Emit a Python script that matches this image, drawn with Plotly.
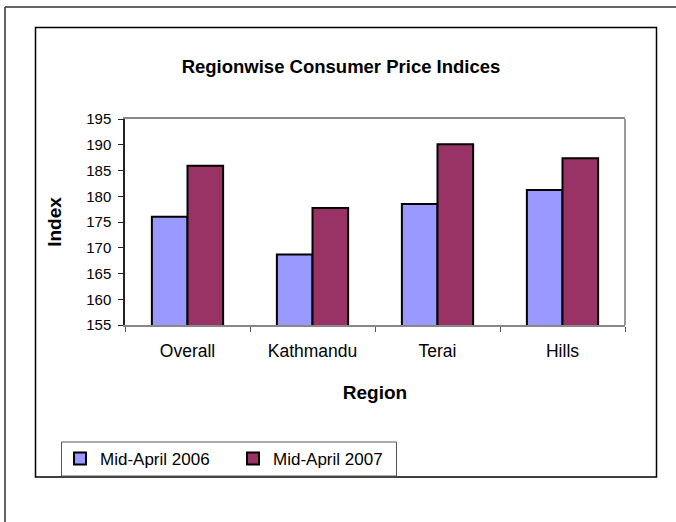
import plotly.graph_objects as go

regions = ["Overall", "Kathmandu", "Terai", "Hills"]
cpi_2006 = [176.0, 168.7, 178.5, 181.2]
cpi_2007 = [185.9, 177.7, 190.1, 187.4]
series_names = ["Mid-April 2006", "Mid-April 2007"]
y_ticks = [155, 160, 165, 170, 175, 180, 185, 190, 195]

W, H = 676, 522
L, R, T, B = 125, 51, 119, 197
pw, ph = W - L - R, H - T - B

def px(x):
    return (x - L) / pw

def py(y):
    return (H - B - y) / ph

FONT = "Arial, Liberation Sans, sans-serif"

fig = go.Figure()
fig.add_trace(go.Bar(x=regions, y=cpi_2006, name=series_names[0],
                     marker=dict(color="#9999FF", line=dict(color="black", width=2))))
fig.add_trace(go.Bar(x=regions, y=cpi_2007, name=series_names[1],
                     marker=dict(color="#993366", line=dict(color="black", width=2))))

shapes = [
    # outer frame
    dict(type="line", xref="paper", yref="paper", x0=px(5), x1=px(5), y0=py(7), y1=py(530),
         line=dict(color="#333", width=1.5)),
    dict(type="line", xref="paper", yref="paper", x0=px(5), x1=px(690), y0=py(7), y1=py(7),
         line=dict(color="#333", width=1.5)),
    # inner chart frame
    dict(type="rect", xref="paper", yref="paper", x0=px(35.5), x1=px(656.5), y0=py(27.5), y1=py(477),
         line=dict(color="black", width=1.5)),
    # plot area right border
    dict(type="line", xref="paper", yref="paper", x0=1, x1=1, y0=0, y1=1,
         line=dict(color="#999999", width=2)),
    # legend frame
    dict(type="rect", xref="paper", yref="paper", x0=px(61.5), x1=px(396.5), y0=py(442), y1=py(476),
         line=dict(color="#555", width=1)),
]

fig.update_layout(
    width=W, height=H,
    margin=dict(l=L, r=R, t=T, b=B, autoexpand=False),
    paper_bgcolor="white", plot_bgcolor="white",
    font=dict(family=FONT, size=14, color="black"),
    barmode="group", bargap=0.43, bargroupgap=0,
    title=dict(text="<b>Regionwise Consumer Price Indices</b>", font=dict(size=18.5, family=FONT),
               x=341 / W, xref="container", xanchor="center",
               y=1 - 67 / H, yref="container", yanchor="middle"),
    xaxis=dict(showgrid=False, showline=True, linecolor="#888888", linewidth=2, mirror=True,
               ticks="outside", tickson="boundaries", ticklen=5, tickcolor="#555",
               tickfont=dict(size=17.5), ticklabelstandoff=9,
               title=dict(text="<b>Region</b>", font=dict(size=19), standoff=26)),
    yaxis=dict(range=[155, 195], tickvals=y_ticks, showgrid=False, showline=True,
               linecolor="#222", linewidth=1.5, ticks="outside", ticklen=5, tickcolor="#222",
               tickfont=dict(size=15), ticklabelstandoff=4, zeroline=False,
               title=dict(text="<b>Index</b>", font=dict(size=19), standoff=20)),
    legend=dict(orientation="h", x=px(60), xanchor="left", y=py(459), yanchor="middle",
                entrywidth=128, bgcolor="rgba(0,0,0,0)", borderwidth=0,
                font=dict(size=17), itemwidth=30),
    shapes=shapes,
)

fig.write_html("out.html", config={"displayModeBar": False},
               post_script="document.body.style.margin='0';")
